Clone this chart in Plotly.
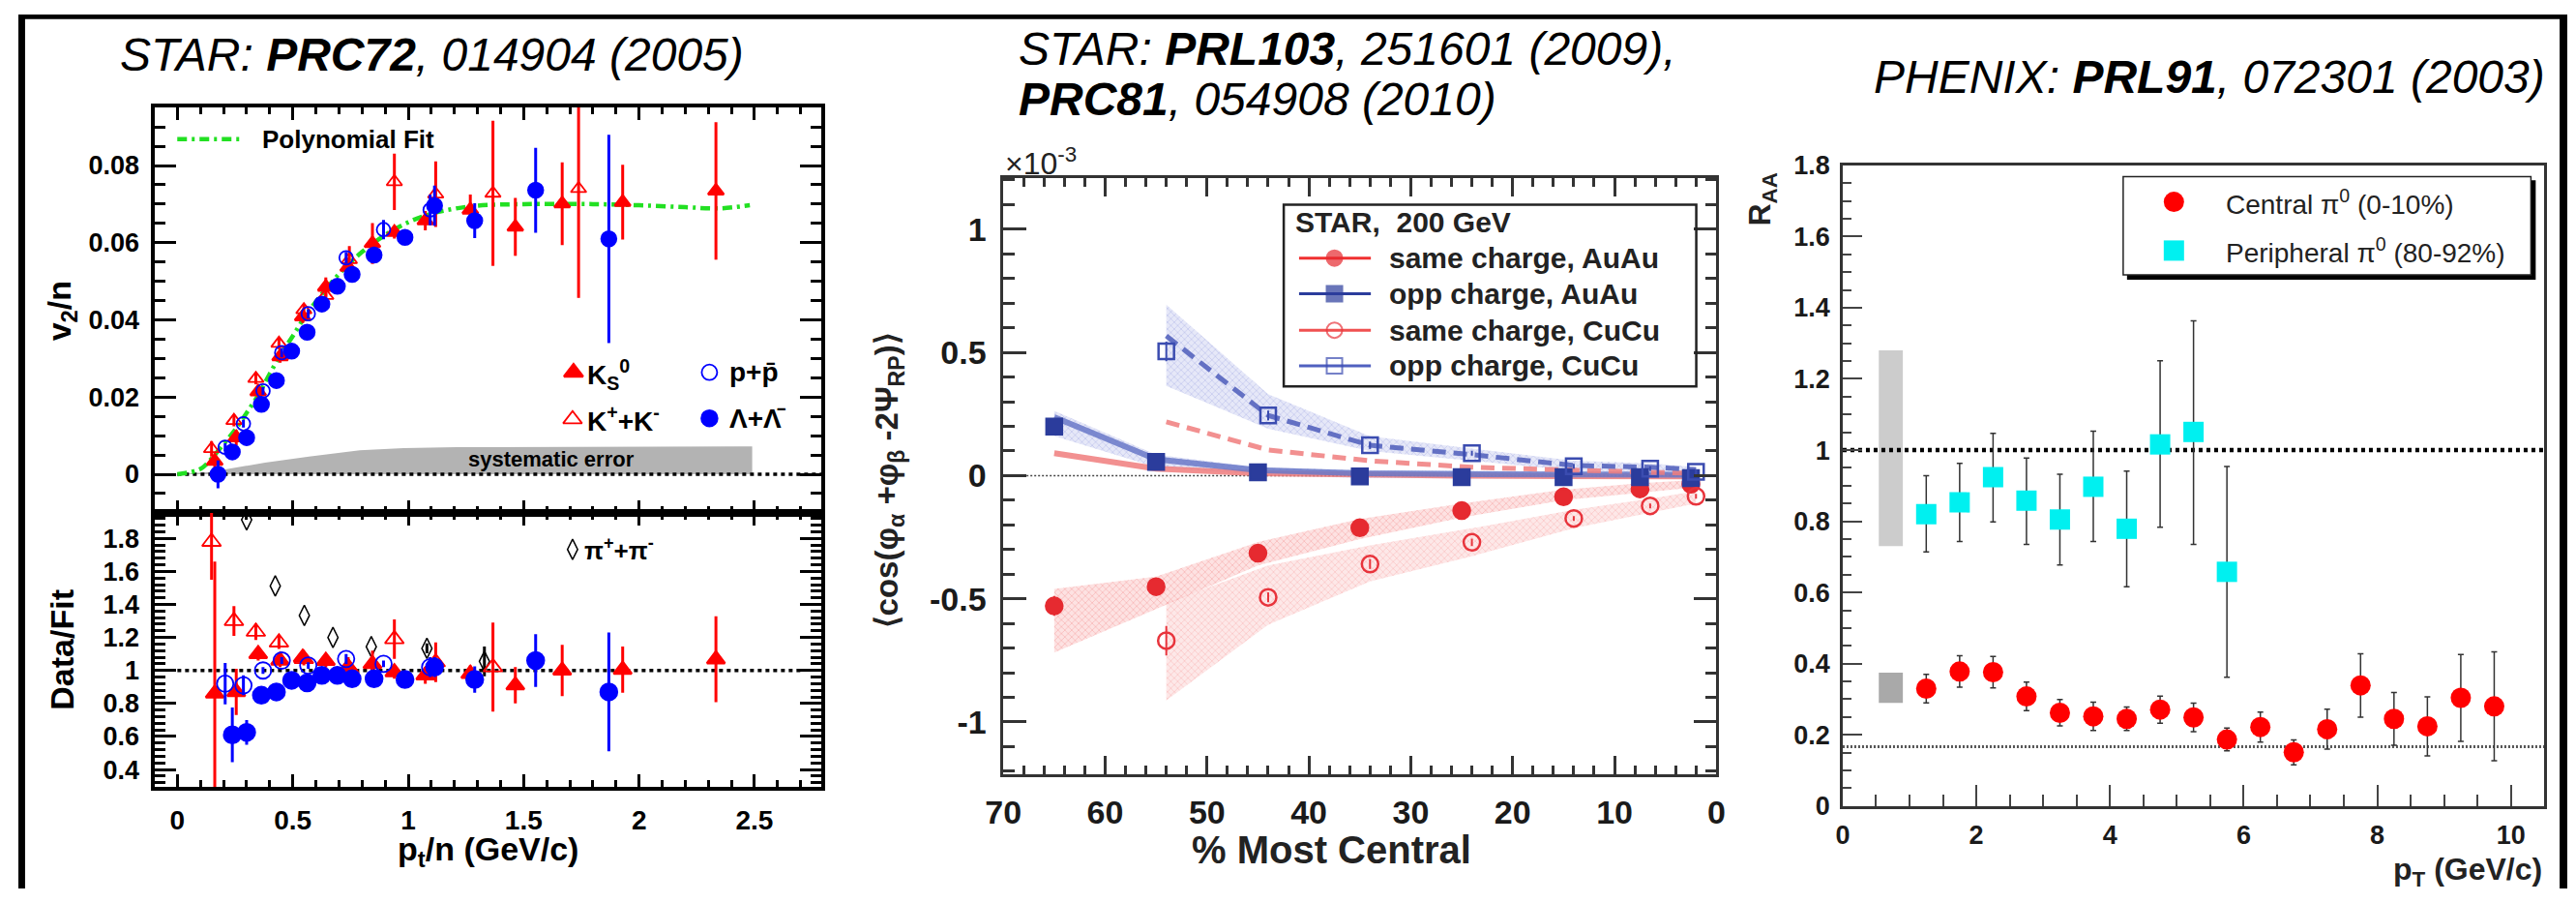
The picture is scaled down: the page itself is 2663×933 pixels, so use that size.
import plotly.graph_objects as go

W, H = 2663, 933
FONT = "Liberation Sans, Arial, Helvetica, sans-serif"

# ---------------- STAR PRC72: v2/n versus pt/n ----------------
ks_x = [0.162, 0.255, 0.35, 0.445, 0.543, 0.643, 0.74, 0.845, 0.94, 1.074, 1.269, 1.464, 1.667, 1.929, 2.333]
ks_v2 = [0.0034, 0.0095, 0.0214, 0.0305, 0.0408, 0.0485, 0.0537, 0.0598, 0.0627, 0.0657, 0.0685, 0.0641, 0.0701, 0.0705, 0.0734]
ks_v2_err = [0.002, 0.002, 0.0016, 0.0016, 0.0016, 0.0025, 0.0025, 0.0053, 0.0016, 0.0025, 0.004, 0.0075, 0.0107, 0.0097, 0.0178]
ks_ratio = [0.86, 0.87, 1.10, 1.06, 1.078, 1.058, 1.02, 1.04, 0.99, 0.97, 0.98, 0.91, 1.0, 1.005, 1.068]
ks_ratio_err = [0.8, 0.14, 0.04, 0.04, 0.04, 0.04, 0.06, 0.08, 0.04, 0.05, 0.05, 0.11, 0.155, 0.14, 0.26]

kc_x = [0.148, 0.245, 0.34, 0.44, 0.548, 0.643, 0.745, 0.94, 1.119, 1.367, 1.738]
kc_v2 = [0.0066, 0.0139, 0.0248, 0.0339, 0.0426, 0.0463, 0.0556, 0.0758, 0.0726, 0.0728, 0.074]
kc_v2_err = [0.002, 0.0015, 0.0015, 0.0015, 0.0015, 0.0015, 0.0035, 0.0073, 0.0085, 0.0188, 0.0283]
kc_rx = [0.148, 0.245, 0.34, 0.44, 0.548, 0.745, 0.94, 1.119, 1.367]
kc_ratio = [1.78, 1.30, 1.235, 1.17, 1.07, 1.01, 1.19, 1.05, 1.02]
kc_ratio_err = [0.23, 0.09, 0.05, 0.04, 0.04, 0.04, 0.12, 0.12, 0.27]

pp_x = [0.207, 0.286, 0.371, 0.452, 0.567, 0.731, 0.893, 1.095]
pp_v2 = [0.007, 0.0131, 0.0216, 0.0315, 0.0416, 0.0561, 0.0634, 0.0685]
pp_v2_err = [0.001, 0.001, 0.001, 0.0012, 0.0012, 0.0015, 0.0025, 0.004]
pp_ratio = [0.92, 0.91, 1.0, 1.06, 1.03, 1.07, 1.04, 1.02]
pp_ratio_err = [0.125, 0.06, 0.02, 0.02, 0.02, 0.03, 0.02, 0.06]

la_x = [0.176, 0.238, 0.3, 0.364, 0.429, 0.495, 0.562, 0.626, 0.693, 0.757, 0.852, 0.986, 1.114, 1.288, 1.552, 1.869]
la_v2 = [0.0, 0.0058, 0.0095, 0.0181, 0.0243, 0.0319, 0.0368, 0.0441, 0.0487, 0.0518, 0.0568, 0.0614, 0.0696, 0.0657, 0.0736, 0.061]
la_v2_err = [0.0036, 0.001, 0.001, 0.0008, 0.0008, 0.0008, 0.0008, 0.0008, 0.0008, 0.0008, 0.0012, 0.0015, 0.0052, 0.0045, 0.011, 0.027]
la_rx = [0.238, 0.3, 0.364, 0.429, 0.495, 0.562, 0.626, 0.693, 0.757, 0.852, 0.986, 1.114, 1.288, 1.552, 1.869]
la_ratio = [0.61, 0.625, 0.85, 0.87, 0.94, 0.925, 0.97, 0.97, 0.95, 0.95, 0.945, 1.02, 0.945, 1.06, 0.87]
la_ratio_err = [0.165, 0.075, 0.02, 0.02, 0.02, 0.02, 0.02, 0.02, 0.02, 0.02, 0.02, 0.06, 0.08, 0.16, 0.36]

pi_x = [0.3, 0.424, 0.55, 0.674, 0.84, 1.081, 1.33]
pi_ratio = [1.913, 1.512, 1.333, 1.20, 1.144, 1.134, 1.055]
pi_ratio_err = [0, 0, 0, 0, 0, 0.03, 0.09]

fit_x = [0, 0.1, 0.15, 0.2, 0.25, 0.3, 0.35, 0.4, 0.45, 0.5, 0.55, 0.6, 0.7, 0.8, 0.9, 1.0,
         1.1, 1.2, 1.3, 1.5, 1.8, 2.0, 2.2, 2.35, 2.48]
fit_y = [0, 0.0014, 0.0042, 0.0078, 0.0115, 0.0159, 0.0205, 0.026, 0.0313, 0.0358, 0.0406, 0.0447,
         0.0519, 0.0576, 0.062, 0.0653, 0.0675, 0.0688, 0.0696, 0.07, 0.07, 0.0697, 0.0692, 0.0689, 0.0697]

sys_x = [0, 0.14, 0.38, 0.57, 0.79, 0.98, 1.21, 2.49]
sys_y = [0, 0.0006, 0.003, 0.0046, 0.0062, 0.0068, 0.007, 0.0072]

# ---------------- STAR PRL103 / PRC81: charge correlations ----------------
cent_au = [65, 55, 45, 35, 25, 15, 7.5, 2.5]
cent_cu = [54, 44, 34, 24, 14, 6.5, 2]
same_au = [-0.529, -0.451, -0.315, -0.212, -0.142, -0.086, -0.054, -0.035]
same_au_err = [0.04, 0.02, 0.015, 0.015, 0.01, 0.01, 0.01, 0.01]
opp_au = [0.199, 0.056, 0.013, -0.003, -0.006, -0.006, -0.006, -0.01]
same_cu = [-0.67, -0.494, -0.359, -0.271, -0.174, -0.123, -0.084]
same_cu_err = [0.06, 0.02, 0.02, 0.015, 0.01, 0.01, 0.01]
opp_cu = [0.504, 0.244, 0.123, 0.091, 0.038, 0.028, 0.015]
opp_cu_err = [0.04, 0.02, 0.015, 0.01, 0.01, 0.01, 0.01]

same_au_lo = [-0.718, -0.54, -0.365, -0.258, -0.17, -0.10, -0.069, -0.05]
same_au_hi = [-0.46, -0.41, -0.27, -0.176, -0.113, -0.057, -0.031, -0.019]
same_cu_lo = [-0.913, -0.605, -0.43, -0.327, -0.214, -0.151, -0.113]
same_cu_hi = [-0.516, -0.365, -0.283, -0.214, -0.139, -0.094, -0.063]
opp_au_lo = [0.161, 0.034, 0.003, -0.01, -0.012, -0.012, -0.012, -0.014]
opp_au_hi = [0.263, 0.085, 0.034, 0.022, 0.02, 0.018, 0.016, 0.014]
opp_cu_lo = [0.364, 0.19, 0.10, 0.06, 0.02, 0.01, 0.0]
opp_cu_hi = [0.694, 0.33, 0.16, 0.11, 0.06, 0.05, 0.035]

line_opp_au = [0.237, 0.066, 0.022, 0.009, 0.006, 0.005, 0.004, 0.003]
line_same_au = [0.091, 0.028, 0.009, 0.003, 0.0, -0.002, -0.003, -0.003]
line_opp_cu = [0.567, 0.244, 0.123, 0.085, 0.041, 0.034, 0.024]
line_same_cu = [0.218, 0.104, 0.06, 0.034, 0.022, 0.015, 0.009]

# ---------------- PHENIX PRL91: pi0 R_AA ----------------
pt_c = [1.25, 1.75, 2.25, 2.75, 3.25, 3.75, 4.25, 4.75, 5.25, 5.75, 6.25, 6.75, 7.25, 7.75, 8.25, 8.75, 9.25, 9.75]
raa_c = [0.330, 0.378, 0.376, 0.308, 0.262, 0.252, 0.245, 0.271, 0.249, 0.187, 0.222, 0.151, 0.216, 0.339, 0.245, 0.224, 0.304, 0.280]
raa_c_err = [0.04, 0.044, 0.044, 0.04, 0.037, 0.04, 0.033, 0.038, 0.04, 0.032, 0.042, 0.035, 0.056, 0.089, 0.074, 0.083, 0.122, 0.153]
pt_p = [1.25, 1.75, 2.25, 2.75, 3.25, 3.75, 4.25, 4.75, 5.25, 5.75]
raa_p = [0.82, 0.853, 0.924, 0.858, 0.805, 0.897, 0.779, 1.016, 1.051, 0.658]
raa_p_hi = [0.928, 0.963, 1.047, 0.978, 0.932, 1.053, 0.941, 1.251, 1.363, 0.954]
raa_p_lo = [0.714, 0.743, 0.798, 0.735, 0.677, 0.743, 0.616, 0.783, 0.735, 0.362]
sys_box_x = [0.54, 0.9]
sys_box_periph = [0.73, 1.28]
sys_box_central = [0.29, 0.375]
ncoll_level = 0.167

# ---------------- geometry (pixels) ----------------
def fx(p):
    return p / W

def fy(p):
    return 1 - p / H

L_X = [fx(142), fx(839)]
M_X = [fx(1029), fx(1774)]
R_X = [fx(1906), fx(2639)]

fig = go.Figure()

def tfont(size, color="black", bold=True):
    d = dict(family=FONT, size=size, color=color)
    if bold:
        d["weight"] = "bold"
    return d

def ebar(arr, color, th=3, w=0, minus=None):
    d = dict(type="data", array=arr, visible=True, color=color, thickness=th, width=w)
    if minus is not None:
        d["symmetric"] = False
        d["arrayminus"] = minus
    return d

def pts(x, y, ax, ay, symbol, color, size, err=None, lw=2.5):
    fig.add_trace(go.Scatter(
        x=x, y=y, xaxis=ax, yaxis=ay, mode="markers",
        marker=dict(symbol=symbol, color=color, size=size, line=dict(color=color, width=lw)),
        error_y=err, hoverinfo="skip"))

# ---- left, upper: v2/n ----
fig.add_trace(go.Scatter(x=sys_x, y=sys_y, xaxis="x", yaxis="y", mode="lines", fill="tozeroy",
                         line=dict(width=0, color="#b3b3b3"), fillcolor="#b3b3b3", hoverinfo="skip"))
fig.add_trace(go.Scatter(x=[0, 2.79], y=[0, 0], xaxis="x", yaxis="y", mode="lines",
                         line=dict(color="black", width=3.5, dash="4px,4px"), hoverinfo="skip"))
fig.add_trace(go.Scatter(x=fit_x, y=fit_y, xaxis="x", yaxis="y", mode="lines", line_shape="spline",
                         line=dict(color="#22e022", width=4.5, dash="10px,5px,3px,5px"), hoverinfo="skip"))
pts(ks_x, ks_v2, "x", "y", "triangle-up", "#ff0000", 14, ebar(ks_v2_err, "#ff0000"))
pts(kc_x, kc_v2, "x", "y", "triangle-up-open", "#ff0000", 14, ebar(kc_v2_err, "#ff0000"), 1.8)
pts(pp_x, pp_v2, "x", "y", "circle-open", "#0000ff", 14, ebar(pp_v2_err, "#0000ff"), 1.8)
pts(la_x, la_v2, "x", "y", "circle", "#0000ff", 15, ebar(la_v2_err, "#0000ff"))

# ---- left, lower: data / fit ----
fig.add_trace(go.Scatter(x=[0, 2.7], y=[1, 1], xaxis="x2", yaxis="y2", mode="lines",
                         line=dict(color="black", width=3.5, dash="4px,4px"), hoverinfo="skip"))
pts(pi_x, pi_ratio, "x2", "y2", "diamond-tall-open", "black", 15, ebar(pi_ratio_err, "black"), 1.5)
pts(kc_rx, kc_ratio, "x2", "y2", "triangle-up-open", "#ff0000", 17, ebar(kc_ratio_err, "#ff0000"), 1.8)
pts(ks_x, ks_ratio, "x2", "y2", "triangle-up", "#ff0000", 16, ebar(ks_ratio_err, "#ff0000"))
pts(pp_x, pp_ratio, "x2", "y2", "circle-open", "#0000ff", 17, ebar(pp_ratio_err, "#0000ff"), 1.8)
pts(la_rx, la_ratio, "x2", "y2", "circle", "#0000ff", 17, ebar(la_ratio_err, "#0000ff"))

# ---- middle: correlator vs centrality ----
def band(xs, lo, hi, fg, bg):
    fig.add_trace(go.Scatter(
        x=list(xs) + list(xs)[::-1], y=list(hi) + list(lo)[::-1], xaxis="x3", yaxis="y3",
        mode="lines", fill="toself", line=dict(width=0, color=bg), fillcolor=bg,
        fillpattern=dict(shape="x", size=5, solidity=0.25, fgcolor=fg, bgcolor=bg),
        hoverinfo="skip"))

band(cent_cu, same_cu_lo, same_cu_hi, "rgba(240,90,90,0.55)", "rgba(252,205,205,0.45)")
band(cent_au, same_au_lo, same_au_hi, "rgba(235,70,70,0.6)", "rgba(250,190,190,0.45)")
band(cent_cu, opp_cu_lo, opp_cu_hi, "rgba(90,100,200,0.55)", "rgba(200,205,240,0.45)")
band(cent_au, opp_au_lo, opp_au_hi, "rgba(90,100,200,0.55)", "rgba(200,205,240,0.45)")

fig.add_trace(go.Scatter(x=[70, 0], y=[0, 0], xaxis="x3", yaxis="y3", mode="lines",
                         line=dict(color="#444", width=1.5, dash="2px,2px"), hoverinfo="skip"))
fig.add_trace(go.Scatter(x=cent_au, y=line_same_au, xaxis="x3", yaxis="y3", mode="lines",
                         line=dict(color="rgba(240,125,125,0.85)", width=6), hoverinfo="skip"))
fig.add_trace(go.Scatter(x=cent_au, y=line_opp_au, xaxis="x3", yaxis="y3", mode="lines",
                         line=dict(color="rgba(105,120,200,0.85)", width=6), hoverinfo="skip"))
fig.add_trace(go.Scatter(x=cent_cu, y=line_same_cu, xaxis="x3", yaxis="y3", mode="lines",
                         line=dict(color="rgba(240,125,125,0.85)", width=5, dash="14px,8px"), hoverinfo="skip"))
fig.add_trace(go.Scatter(x=cent_cu, y=line_opp_cu, xaxis="x3", yaxis="y3", mode="lines",
                         line=dict(color="rgba(85,100,190,0.9)", width=5, dash="14px,8px"), hoverinfo="skip"))

pts(cent_au, same_au, "x3", "y3", "circle", "#e62a30", 17, ebar(same_au_err, "#e62a30", 2))
pts(cent_au, opp_au, "x3", "y3", "square", "#2b3c9c", 16)
pts(cent_cu, same_cu, "x3", "y3", "circle-open", "#e8343c", 17, ebar(same_cu_err, "#e8343c", 2), 2.5)
pts(cent_cu, opp_cu, "x3", "y3", "square-open", "#3b4cb0", 16, ebar(opp_cu_err, "#3b4cb0", 2), 2.5)

# ---- right: R_AA ----
fig.add_trace(go.Scatter(x=[0, 10.5], y=[ncoll_level, ncoll_level], xaxis="x4", yaxis="y4", mode="lines",
                         line=dict(color="#555", width=3, dash="2px,2px"), hoverinfo="skip"))
fig.add_trace(go.Scatter(x=[0, 10.5], y=[1, 1], xaxis="x4", yaxis="y4", mode="lines",
                         line=dict(color="black", width=4.5, dash="4px,4px"), hoverinfo="skip"))
raa_p_up = [h - v for h, v in zip(raa_p_hi, raa_p)]
raa_p_dn = [v - l for v, l in zip(raa_p, raa_p_lo)]
pts(pt_p, raa_p, "x4", "y4", "square", "#00f0f0", 21, ebar(raa_p_up, "#333", 1.5, 3, raa_p_dn), 0)
pts(pt_c, raa_c, "x4", "y4", "circle", "#ff0000", 21, ebar(raa_c_err, "#333", 1.5, 3), 0)

shapes = [
    dict(type="rect", xref="x4", yref="y4", x0=sys_box_x[0], x1=sys_box_x[1],
         y0=sys_box_periph[0], y1=sys_box_periph[1], fillcolor="#cccccc", line=dict(width=0), layer="below"),
    dict(type="rect", xref="x4", yref="y4", x0=sys_box_x[0], x1=sys_box_x[1],
         y0=sys_box_central[0], y1=sys_box_central[1], fillcolor="#a9a9a9", line=dict(width=0), layer="below"),
]

# ---------------- legends and labels (pixel overlay) ----------------
def key(xs, ys, symbol, color, size, lw=2.5, mode="markers", line=None, sizes=None):
    fig.add_trace(go.Scatter(
        x=xs, y=ys, xaxis="x5", yaxis="y5", mode=mode,
        marker=dict(symbol=symbol, color=color, size=sizes if sizes else size,
                    line=dict(color=color, width=lw)),
        line=line, hoverinfo="skip"))

# left panel keys
fig.add_trace(go.Scatter(x=[166, 232], y=[133, 133], xaxis="x5", yaxis="y5", mode="lines",
                         line=dict(color="#22e022", width=4.5, dash="10px,5px,3px,5px"), hoverinfo="skip"))
key([580], [382], "triangle-up", "#ff0000", 17)
key([579], [432], "triangle-up-open", "#ff0000", 17, 1.8)
key([722], [382], "circle-open", "#0000ff", 16, 1.8)
key([722], [431], "circle", "#0000ff", 16)
key([579], [571], "diamond-tall-open", "black", 15, 1.5)

# middle legend keys
mid_rows = [260, 298, 337, 375]
mid_keys = [("circle", "#e62a30", "#f03030"), ("square", "#2b3c9c", "#2b3c9c"),
            ("circle-open", "#e8343c", "#f05050"), ("square-open", "#3b4cb0", "#5060c0")]
for yy, (sym, col, lcol) in zip(mid_rows, mid_keys):
    key([1338, 1375, 1413], [yy] * 3, sym, col, 16, 2, mode="lines+markers",
        line=dict(color=lcol, width=3), sizes=[0, 16, 0])

# right legend keys
shapes += [
    dict(type="rect", xref="x5", yref="y5", x0=2203, x1=2630, y0=177, y1=283,
         fillcolor="black", line=dict(width=0), layer="below"),
    dict(type="rect", xref="x5", yref="y5", x0=2199, x1=2625, y0=173, y1=278,
         fillcolor="white", line=dict(color="#222", width=1.5), layer="below"),
    dict(type="rect", xref="x5", yref="y5", x0=1322, x1=1753, y0=203, y1=397,
         fillcolor="rgba(0,0,0,0)", line=dict(color="#222", width=2.5)),
]
key([2252], [200], "circle", "#ff0000", 21, 0)
key([2252], [252], "square", "#00f0f0", 21, 0)

# outer black frame
shapes += [
    dict(type="rect", xref="x5", yref="y5", x0=0, x1=7, y0=0, y1=H, fillcolor="black", line=dict(width=0)),
    dict(type="rect", xref="x5", yref="y5", x0=0, x1=W, y0=0, y1=5, fillcolor="black", line=dict(width=0)),
    dict(type="rect", xref="x5", yref="y5", x0=2655, x1=W, y0=0, y1=H, fillcolor="black", line=dict(width=0)),
]

def txt(x, y, text, size, xa="left", ya="middle", bold=True, angle=0, color="black", italic=False):
    return dict(x=x, y=y, xref="x5", yref="y5", text=text, showarrow=False, xanchor=xa, yanchor=ya,
                textangle=angle, font=dict(family=FONT, size=size, color=color,
                                           weight="bold" if bold else "normal",
                                           style="italic" if italic else "normal"))

annotations = [
    # titles
    txt(432, 43, "STAR: <b>PRC72</b>, 014904 (2005)", 48, xa="center", bold=False, italic=True),
    txt(1043, 37, "STAR: <b>PRL103</b>, 251601 (2009),", 48, bold=False, italic=True),
    txt(1043, 90, "<b>PRC81</b>, 054908 (2010)", 48, bold=False, italic=True),
    txt(2642, 67, "PHENIX: <b>PRL91</b>, 072301 (2003)", 48, xa="right", bold=False, italic=True),
    # left panel
    txt(253, 133, "Polynomial Fit", 26),
    txt(592, 384, "K<sub>S</sub><sup>0</sup>", 28),
    txt(741, 382, "p+p\u0304", 28),
    txt(592, 432, "K<sup>+</sup>+K<sup>-</sup>", 28),
    txt(741, 431, "\u039b+\u039b\u0304", 28),
    txt(557, 475, "systematic error", 22, xa="center"),
    txt(589, 571, "\u03c0<sup>+</sup>+\u03c0<sup>-</sup>", 26),
    txt(45, 317, "v<sub>2</sub>/n", 34, xa="center", angle=-90),
    txt(46, 678, "Data/Fit", 34, xa="center", angle=-90),
    txt(491, 893, "p<sub>t</sub>/n (GeV/c)", 34, xa="center"),
    # middle panel
    txt(1029, 157, "\u00d710<sup>-3</sup>", 32, bold=False, color="#222"),
    txt(910, 497, "\u27e8cos(\u03c6<sub>\u03b1</sub> +\u03c6<sub>\u03b2</sub> -2\u03a8<sub>RP</sub>)\u27e9", 33,
        xa="center", angle=-90, color="#222"),
    txt(1372, 892, "% Most Central", 40, xa="center", color="#222"),
    txt(1332, 222, "STAR,\u00a0\u00a0200 GeV", 30, color="#222"),
    txt(1430, 260, "same charge, AuAu", 30, color="#222"),
    txt(1430, 298, "opp charge, AuAu", 30, color="#222"),
    txt(1430, 337, "same charge, CuCu", 30, color="#222"),
    txt(1430, 375, "opp charge, CuCu", 30, color="#222"),
    # right panel
    txt(1822, 197, "R<sub>AA</sub>", 32, xa="center", angle=-90, color="#222"),
    txt(2639, 915, "p<sub>T</sub> (GeV/c)", 32, xa="right", color="#222"),
    txt(2304, 200, "Central \u03c0<sup>0</sup> (0-10%)", 28, bold=False, color="#222"),
    txt(2304, 252, "Peripheral \u03c0<sup>0</sup> (80-92%)", 28, bold=False, color="#222"),
]

# ---------------- axes ----------------
def axis(**kw):
    base = dict(showgrid=False, zeroline=False, showline=True, linecolor="black", linewidth=4,
                ticks="inside", tickcolor="black", tickwidth=3, mirror="allticks",
                ticklabelstandoff=6, tickfont=tfont(27))
    base.update(kw)
    return base

def minor(dtick, ln, color="black", w=3):
    return dict(dtick=dtick, ticklen=ln, tickwidth=w, tickcolor=color, ticks="inside", showgrid=False)

mid_col = "#333"
right_col = "#444"

fig.update_layout(
    width=W, height=H, margin=dict(l=0, r=0, t=0, b=0),
    paper_bgcolor="white", plot_bgcolor="rgba(0,0,0,0)", showlegend=False,
    xaxis=axis(domain=L_X, anchor="y", range=[-0.1, 2.79], dtick=0.5, tick0=0, ticklen=13,
               showticklabels=False, minor=minor(0.1, 7)),
    yaxis=axis(domain=[fy(532), fy(99)], anchor="x", range=[-0.01, 0.0951], dtick=0.02, tick0=0,
               ticklen=22, minor=minor(0.005, 11)),
    xaxis2=axis(domain=L_X, anchor="y2", range=[-0.1, 2.79], dtick=0.5, tick0=0, ticklen=13,
                tickfont=tfont(28), minor=minor(0.1, 7)),
    yaxis2=axis(domain=[fy(825), fy(532)], anchor="x2", range=[0.292, 1.955], dtick=0.2, tick0=0,
                ticklen=22, minor=minor(0.04, 11)),
    xaxis3=axis(domain=M_X, anchor="y3", range=[70, 0], dtick=10, tick0=0, ticklen=19,
                linecolor=mid_col, linewidth=2.5, tickcolor=mid_col, tickwidth=2.5,
                tickfont=tfont(34, "#1a1a1a"), ticklabelstandoff=8, minor=minor(2, 9, mid_col, 2.5)),
    yaxis3=axis(domain=[fy(811), fy(175)], anchor="x3", range=[-1.212, 1.206],
                tickvals=[-1, -0.5, 0, 0.5, 1], ticktext=["-1", "-0.5", "0", "0.5", "1"], ticklen=24,
                linecolor=mid_col, linewidth=2.5, tickcolor=mid_col, tickwidth=2.5,
                tickfont=tfont(34, "#1a1a1a"), ticklabelstandoff=8,
                minor=dict(tickvals=[v / 10 for v in range(-12, 13)], ticklen=12, tickwidth=2.5,
                           tickcolor=mid_col, ticks="inside", showgrid=False)),
    xaxis4=axis(domain=R_X, anchor="y4", range=[0, 10.5], dtick=2, tick0=0, ticklen=22,
                mirror=True, linecolor="#333", linewidth=2.5, tickcolor=right_col, tickwidth=2,
                tickfont=tfont(27, "#1a1a1a"), ticklabelstandoff=4, minor=minor(0.5, 12, right_col, 2)),
    yaxis4=axis(domain=[fy(845), fy(161)], anchor="x4", range=[0, 1.8], dtick=0.2, tick0=0, ticklen=20,
                mirror=True, linecolor="#333", linewidth=2.5, tickcolor=right_col, tickwidth=2,
                tickfont=tfont(27, "#1a1a1a"), ticklabelstandoff=5, minor=minor(0.05, 9, right_col, 2)),
    xaxis5=dict(domain=[0, 1], range=[0, W], visible=False, anchor="y5", fixedrange=True),
    yaxis5=dict(domain=[0, 1], range=[H, 0], visible=False, anchor="x5", fixedrange=True),
    shapes=shapes,
    annotations=annotations,
)

fig.write_html("out.html")
